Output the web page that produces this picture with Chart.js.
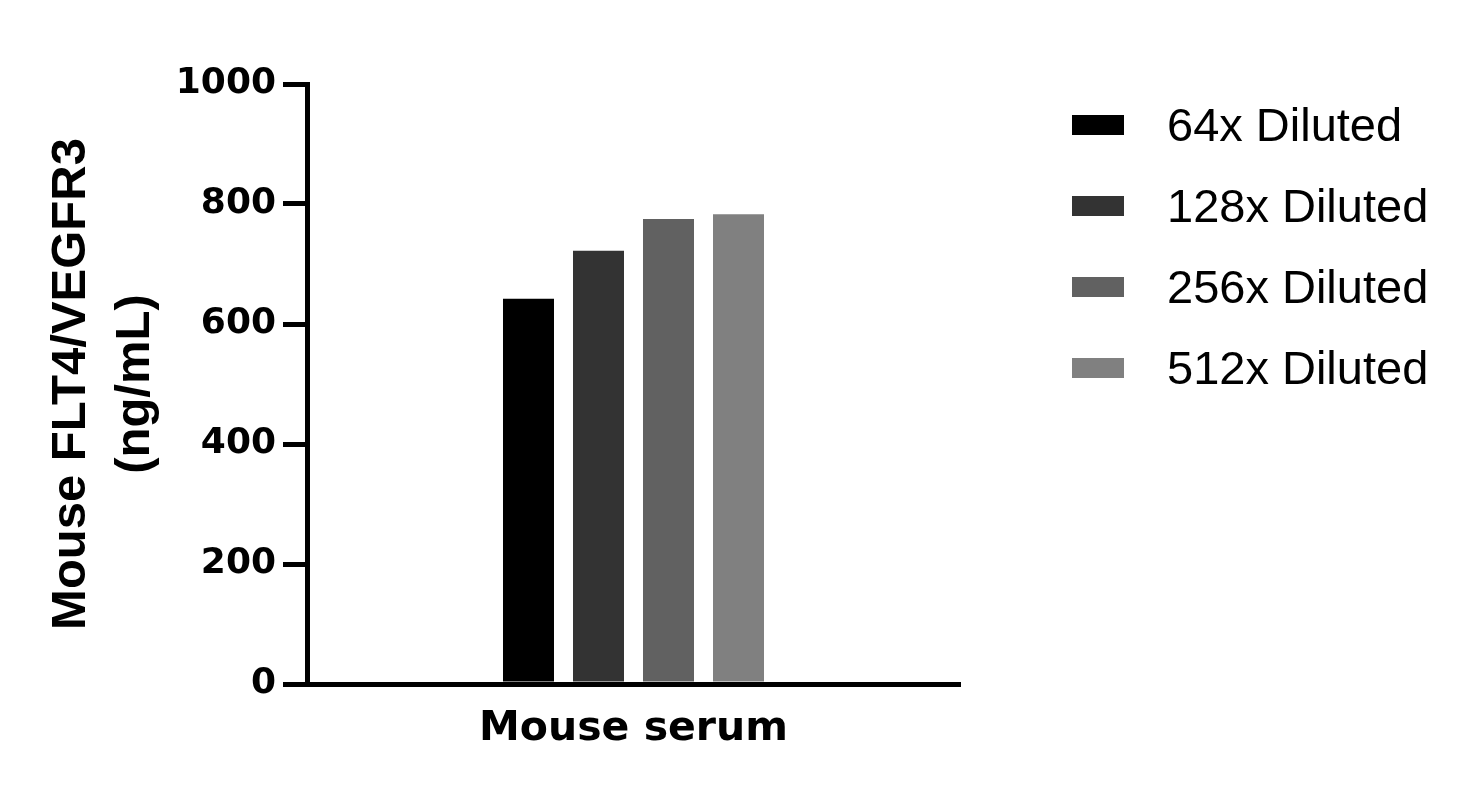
<!DOCTYPE html>
<html>
<head>
<meta charset="utf-8">
<title>Mouse FLT4/VEGFR3</title>
<script src="https://cdn.jsdelivr.net/npm/chart.js@4.4.1/dist/chart.umd.min.js"></script>
<style>
    html, body { margin: 0; padding: 0; background: #fff; }
    .chart-wrap { position: relative; width: 1475px; height: 804px; }
    .chart-legend {
        position: absolute;
        left: 1072px;
        top: 84px;
        font-family: "Liberation Sans", Arial, sans-serif;
        font-size: 47px;
        color: #000;
    }
    .legend-item { display: flex; align-items: center; height: 81px; }
    .legend-box { width: 52px; height: 20px; margin-right: 43px; }
    .legend-text { line-height: 1; white-space: nowrap; }
</style>
</head>
<body>
<div class="chart-wrap">
    <canvas id="dilutionChart" width="1475" height="804"></canvas>
    <div class="chart-legend" id="dilutionLegend"></div>
</div>
<script>
// data
const categories = ['Mouse serum'];
const seriesNames = ['64x Diluted', '128x Diluted', '256x Diluted', '512x Diluted'];
const seriesValues = [[642], [722], [775], [783]];
const seriesColors = ['#000000', '#333333', '#616161', '#808080'];
const yTicks = [0, 200, 400, 600, 800, 1000];
const yTitle = ['Mouse FLT4/VEGFR3', '(ng/mL)'];

const datasets = seriesNames.map((name, i) => ({
    label: name,
    data: seriesValues[i],
    backgroundColor: seriesColors[i],
    borderWidth: 0,
    categoryPercentage: 0.4288,
    barPercentage: 0.7286
}));

const chart = new Chart(document.getElementById('dilutionChart').getContext('2d'), {
    type: 'bar',
    data: { labels: categories, datasets: datasets },
    options: {
        responsive: false,
        animation: false,
        devicePixelRatio: 1,
        layout: { padding: { left: 20, top: 84, right: 515, bottom: 0 } },
        plugins: {
            legend: { display: false },
            tooltip: { enabled: true }
        },
        scales: {
            x: {
                grid: { display: false, drawTicks: false },
                border: { display: true, color: '#000', width: 5 },
                ticks: {
                    color: '#000',
                    padding: 21,
                    font: { family: '"DejaVu Sans", sans-serif', size: 41, weight: 'bold' }
                },
                afterFit: function(scale) { scale.height = 120; }
            },
            y: {
                min: yTicks[0],
                max: yTicks[yTicks.length - 1],
                afterBuildTicks: function(scale) {
                    scale.ticks = yTicks.map(v => ({ value: v }));
                },
                grid: {
                    display: true,
                    drawOnChartArea: false,
                    drawTicks: true,
                    tickLength: 24,
                    lineWidth: 5,
                    color: '#000'
                },
                border: { display: true, color: '#000', width: 5 },
                ticks: {
                    color: '#000',
                    padding: 7,
                    font: { family: '"DejaVu Sans", sans-serif', size: 36, weight: 'bold' },
                    callback: function(value) { return String(value); }
                },
                title: {
                    display: true,
                    text: yTitle,
                    color: '#000',
                    padding: { top: 20, bottom: 0 },
                    font: { family: '"Liberation Sans", Arial, sans-serif', size: 49, weight: 'bold', lineHeight: 1.296 }
                },
                afterFit: function(scale) { scale.width = 287; }
            }
        }
    }
});

// legend built from the datasets
const legendEl = document.getElementById('dilutionLegend');
legendEl.innerHTML = chart.data.datasets.map(ds => `
    <div class="legend-item">
        <span class="legend-box" style="background:${ds.backgroundColor}"></span>
        <span class="legend-text">${ds.label}</span>
    </div>
`).join('');
</script>
</body>
</html>
